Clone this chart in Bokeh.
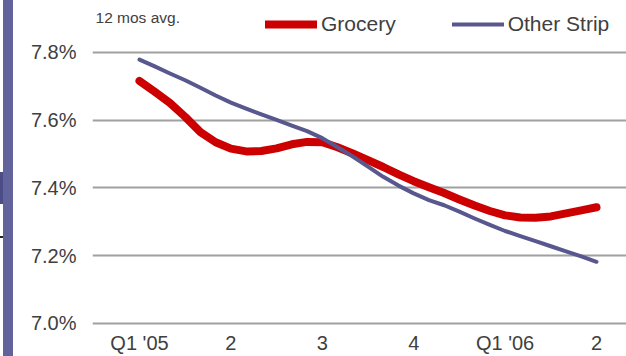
from bokeh.plotting import figure
from bokeh.models import FixedTicker, PrintfTickFormatter, Legend, LegendItem, Label, Div
from bokeh.layouts import row
from bokeh.embed import file_html
from bokeh.resources import INLINE

# ---- data (every half month, Q1 '05 .. Q2 '06) ----
months = [i / 2 for i in range(31)]
tick_positions = [0, 3, 6, 9, 12, 15]
tick_labels = ["Q1 '05", "2", "3", "4", "Q1 '06", "2"]
grocery = [7.716, 7.684, 7.651, 7.610, 7.565, 7.535, 7.516, 7.508, 7.509, 7.517,
           7.529, 7.536, 7.535, 7.520, 7.502, 7.482, 7.462, 7.440, 7.420, 7.402,
           7.385, 7.366, 7.348, 7.332, 7.319, 7.313, 7.312, 7.316, 7.325, 7.334,
           7.343]
other_strip = [7.779, 7.759, 7.738, 7.718, 7.696, 7.673, 7.652, 7.634, 7.617, 7.601,
               7.584, 7.568, 7.547, 7.520, 7.493, 7.463, 7.433, 7.407, 7.384, 7.364,
               7.349, 7.330, 7.310, 7.291, 7.273, 7.258, 7.243, 7.228, 7.213, 7.198,
               7.182]
y_ticks = [7.0, 7.2, 7.4, 7.6, 7.8]

FONT = "Liberation Sans"
TXT = "#404040"
RED = "#cc0000"
BLUE = "#58588e"

p = figure(width=612, height=356, output_backend="svg", toolbar_location=None,
           x_range=(-1.543, 15.985), y_range=(6.991, 7.9535),
           min_border_left=78, min_border_right=0, min_border_top=0, min_border_bottom=30)
p.outline_line_color = None
p.background_fill_color = "white"
p.border_fill_color = "white"

p.xgrid.grid_line_color = None
p.ygrid.grid_line_color = "#a0a0a0"
p.ygrid.grid_line_width = 2
p.ygrid.ticker = FixedTicker(ticks=y_ticks)

p.yaxis.ticker = FixedTicker(ticks=y_ticks)
p.yaxis.formatter = PrintfTickFormatter(format="%.1f%%")
p.xaxis.ticker = FixedTicker(ticks=tick_positions)
p.xaxis.major_label_overrides = {t: l for t, l in zip(tick_positions, tick_labels)}
for ax in (p.xaxis, p.yaxis):
    ax.axis_line_color = None
    ax.major_tick_line_color = None
    ax.minor_tick_line_color = None
    ax.major_tick_out = 0
    ax.major_tick_in = 0
    ax.major_label_text_font = FONT
    ax.major_label_text_font_size = "20px"
    ax.major_label_text_color = TXT
p.yaxis.major_label_standoff = 16
p.xaxis.major_label_standoff = 5

r_g = p.line(months, grocery, line_color=RED, line_width=8, line_cap="round", line_join="round")
r_o = p.line(months, other_strip, line_color=BLUE, line_width=4, line_cap="round", line_join="round")

legend = Legend(items=[LegendItem(label="Grocery", renderers=[r_g]),
                       LegendItem(label="Other Strip", renderers=[r_o])],
                orientation="horizontal", location=(173, 290),
                padding=0, margin=0, spacing=56, label_standoff=4,
                glyph_width=52, glyph_height=20, label_height=20,
                label_text_font=FONT, label_text_font_size="21px",
                label_text_color=TXT, border_line_color=None,
                background_fill_alpha=0)
p.add_layout(legend, "center")

p.add_layout(Label(x=-1.444, y=7.9033, text="12 mos avg.", text_font=FONT,
                   text_font_size="15.5px", text_color=TXT, text_baseline="middle"))

bar = Div(width=14, height=356, margin=0, text=(
    '<div style="position:relative;width:14px;height:356px;">'
    '<div style="position:absolute;left:3px;top:0;width:10px;height:356px;background:#63639b;"></div>'
    '<div style="position:absolute;left:0;top:172px;width:3px;height:32px;background:#4c4c88;"></div>'
    '<div style="position:absolute;left:0;top:236px;width:3px;height:2px;background:#222;"></div>'
    '</div>'))

layout = row(bar, p, spacing=0)
open("out.html", "w").write(file_html(layout, INLINE))
